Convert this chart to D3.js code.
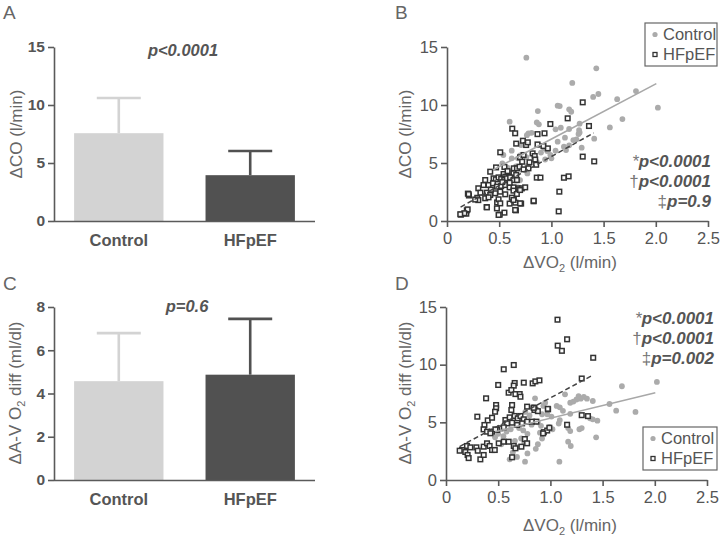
<!DOCTYPE html>
<html><head><meta charset="utf-8">
<script src="https://cdn.jsdelivr.net/npm/d3@7"></script>
<style>body{margin:0;background:#fff} text{font-family:"Liberation Sans",Arial,sans-serif}</style>
</head><body><svg id="c" width="720" height="537"></svg>
<script>
// ---------- DATA ----------
const groups = ["Control", "HFpEF"];
const coMean = [7.57, 3.95];
const coSD = [3.03, 2.08];
const avMean = [4.57, 4.87];
const avSD = [2.22, 2.58];
const coTicks = [0, 5, 10, 15];
const avTicks = [0, 2, 4, 6, 8];
const scatterYTicks = [0, 5, 10, 15];
const scatterXTicks = [0, 0.5, 1.0, 1.5, 2.0, 2.5];

// Panel B: ΔVO2 vs ΔCO
const bControl = [[0.76,14.08],[1.43,13.16],[1.20,11.9],[1.81,11.2],[1.40,10.7],[1.45,10.95],[1.63,10.5],[2.02,9.77],[1.06,9.94],[1.08,9.91],[1.17,9.63],[1.19,9.42],[0.87,9.48],[1.68,8.79],[1.56,8.07],[0.60,8.56],[0.86,8.5],[0.88,8.33],[1.27,8.39],[1.04,7.9],[1.09,8.04],[1.17,7.93],[1.265,7.84],[1.27,7.64],[1.41,7.1],[1.26,7.5],[1.13,7.18],[1.06,6.84],[1.21,6.98],[1.24,7.04],[1.29,6.32],[1.17,6.52],[1.12,6.41],[1.04,6.06],[1.14,6.12],[0.96,6.03],[0.88,6.55],[0.78,7.56],[0.765,7.4],[0.62,6.06],[0.70,5.65],[0.68,5.4],[0.62,5.4],[0.53,4.97],[0.76,5.5],[0.83,5.65],[0.94,5.3],[0.99,5.7],[0.86,5.1],[0.77,4.77],[0.66,4.7],[0.77,4.1],[0.62,4.25],[0.70,3.53],[0.67,3.5],[0.68,2.9],[0.54,5.69],[0.93,6.27],[0.81,7.6],[0.90,5.9],[1.00,5.4],[0.58,4.6],[0.71,6.55]];
const bHFpEF = [[1.30,10.23],[1.156,8.85],[0.99,8.36],[1.36,8.19],[0.625,7.96],[0.653,7.56],[0.867,7.49],[0.934,7.56],[0.663,6.67],[0.727,6.92],[0.758,6.55],[0.774,6.78],[0.867,6.6],[0.924,6.46],[0.966,6.26],[0.51,5.92],[0.70,5.49],[0.733,5.69],[0.82,5.83],[0.84,5.6],[0.79,5.06],[0.72,5.11],[0.845,5.3],[0.854,4.85],[1.30,5.55],[1.41,5.14],[1.12,3.73],[1.165,3.85],[0.86,3.74],[0.895,3.74],[1.076,2.53],[0.83,1.7],[1.07,0.83],[0.66,0.92],[0.55,0.72],[0.505,0.55],[0.134,0.55],[0.185,0.63],[0.19,0.92],[0.20,2.36],[0.21,2.2],[0.29,2.0],[0.30,1.8],[0.38,1.2],[0.48,1.6],[0.60,1.5],[0.64,1.87],[0.655,1.58],[0.71,1.5],[0.414,4.25],[0.64,4.54],[0.67,4.54],[0.695,4.68],[0.733,4.45],[0.78,4.54],[0.366,3.53],[0.35,3.1],[0.30,2.82],[0.32,2.44],[0.207,2.32],[0.542,4.05],[0.558,3.82],[0.596,3.82],[0.637,4.11],[0.663,3.97],[0.446,3.68],[0.468,3.59],[0.494,3.76],[0.519,3.62],[0.548,3.53],[0.574,3.68],[0.605,3.76],[0.637,3.53],[0.669,3.53],[0.398,3.1],[0.44,3.25],[0.478,2.96],[0.519,3.02],[0.558,3.1],[0.60,2.9],[0.637,2.9],[0.685,2.81],[0.717,2.81],[0.749,2.9],[0.382,2.44],[0.414,2.24],[0.462,2.39],[0.51,2.53],[0.558,2.3],[0.637,2.62],[0.669,2.33],[0.70,2.67],[0.366,1.96],[0.398,2.04],[0.494,1.87],[0.51,1.52],[0.621,2.01],[0.637,1.81],[0.70,1.52],[0.83,1.75],[0.382,1.18],[0.478,1.09],[0.653,0.95],[0.198,1.0],[0.166,0.67],[0.127,0.58],[0.494,0.52],[0.47,4.62],[0.55,4.66],[0.58,4.3],[0.60,3.3],[0.53,3.35],[0.42,2.7],[0.27,1.85]];
const bFitControl = [[0.44, 4.4], [2.005, 11.84]];
const bFitHFpEF = [[0.13, 1.2], [1.405, 7.59]];
const bStats = [["*", "p<0.0001"], ["\u2020", "p<0.0001"], ["\u2021", "p=0.9"]];

// Panel D: ΔVO2 vs ΔA-V O2 diff
const dControl = [[2.02,8.5],[1.685,8.13],[1.566,6.59],[1.63,6.01],[1.815,5.9],[1.406,6.85],[1.27,7.28],[1.29,7.05],[1.25,6.98],[1.32,7.2],[1.35,7.05],[1.14,7.43],[1.19,6.7],[1.22,6.8],[1.06,6.42],[1.09,6.3],[1.12,6.0],[1.19,5.74],[1.406,5.26],[1.45,5.14],[1.38,5.35],[1.278,4.4],[1.30,4.5],[1.17,4.5],[1.19,4.24],[1.438,3.7],[1.17,3.32],[1.195,2.95],[1.086,1.59],[0.757,1.59],[0.61,1.79],[1.09,5.2],[1.08,4.9],[0.853,7.08],[0.933,6.42],[0.83,6.3],[0.87,6.1],[0.92,5.7],[0.97,5.7],[1.01,5.5],[0.88,5.0],[0.91,4.7],[0.82,4.8],[0.99,4.6],[1.02,4.4],[0.90,4.1],[0.92,3.6],[0.88,3.1],[0.86,2.7],[0.78,2.3],[0.70,4.5],[0.74,4.3],[0.78,4.0],[0.72,3.6],[0.75,3.2],[0.66,3.4],[0.70,2.9],[0.62,4.4],[0.58,4.2],[0.55,3.8],[0.50,4.0],[0.47,3.7],[0.53,3.1],[0.64,2.4],[0.68,2.0],[0.80,5.6],[0.76,5.9],[0.95,6.7]];
const dHFpEF = [[0.649,9.97],[0.553,9.6],[0.5,8.24],[0.658,8.41],[0.649,8.18],[0.745,8.44],[0.83,8.38],[0.856,8.55],[0.895,8.64],[0.60,7.57],[0.626,7.8],[0.665,7.45],[0.706,7.45],[0.713,7.22],[0.384,7.08],[0.48,6.5],[0.48,6.22],[0.47,5.92],[0.633,6.5],[0.626,6.07],[0.777,6.36],[0.847,6.27],[0.847,6.07],[0.978,6.13],[0.30,5.49],[0.40,5.17],[0.441,5.4],[0.368,4.77],[0.36,4.39],[0.569,5.2],[0.61,5.43],[0.658,5.55],[0.687,5.35],[0.713,5.55],[0.745,5.26],[0.777,5.06],[0.825,5.06],[0.866,5.06],[0.585,4.91],[0.633,4.97],[0.681,4.77],[0.729,4.91],[0.52,4.48],[0.553,4.57],[0.489,4.34],[0.441,4.19],[0.393,4.19],[0.425,4.05],[0.473,4.39],[0.201,2.95],[0.233,2.83],[0.154,2.6],[0.131,2.54],[0.185,2.43],[0.207,2.17],[0.291,2.83],[0.304,2.54],[0.361,2.89],[0.393,3.18],[0.418,2.95],[0.441,2.6],[0.467,2.6],[0.505,3.18],[0.553,3.32],[0.60,3.32],[0.649,2.95],[0.665,2.75],[0.722,2.89],[0.755,3.55],[0.777,3.18],[0.329,1.79],[0.361,2.17],[0.633,1.97],[0.937,4.15],[0.969,4.29],[0.217,1.9],[1.068,13.9],[1.07,11.65],[1.11,11.2],[1.16,12.2],[1.41,10.6],[1.30,8.8],[1.16,4.79],[1.30,5.62],[1.36,5.54],[0.99,4.53],[0.93,4.04],[0.975,6.17],[0.88,5.97],[0.84,6.26]];
const dFitControl = [[0.47, 4.19], [2.005, 7.56]];
const dFitHFpEF = [[0.13, 2.9], [1.40, 9.06]];
const dStats = [["*", "p<0.0001"], ["\u2020", "p<0.0001"], ["\u2021", "p=0.002"]];

// ---------- STYLE ----------
const barColors = ["#d3d3d3", "#515151"];
const axisColor = "#5a5a5a";
const textColor = "#555";
const ctrlDot = "#ababab";
const hfStroke = "#333";

const svg = d3.select("#c");

function styleAxis(g, fontSize, weight) {
  g.select(".domain").attr("stroke", axisColor).attr("stroke-width", 1.6);
  g.selectAll(".tick line").attr("stroke", axisColor).attr("stroke-width", 1.6);
  g.selectAll(".tick text").attr("fill", textColor).style("font-size", fontSize + "px")
    .style("font-weight", weight).style("font-family", '"Liberation Sans",Arial,sans-serif');
}

function panelLetter(t, x, y) {
  svg.append("text").attr("x", x).attr("y", y).text(t)
    .attr("fill", "#666").style("font-size", "19px");
}

function yTitle(cx, cy, parts) {
  const t = svg.append("text").attr("transform", `translate(${cx},${cy}) rotate(-90)`)
    .attr("text-anchor", "middle").attr("fill", "#666").style("font-size", "17px").attr("dy", "0.35em");
  parts.forEach(p => {
    const s = t.append("tspan").text(p[0]);
    if (p[1] === "sub") s.style("font-size", "11px").attr("dy", 4);
    if (p[1] === "after") s.attr("dy", -4);
  });
}

function barPanel(o) {
  const y = d3.scaleLinear().domain([0, o.max]).range([o.bot, o.top]);
  const x = d3.scaleBand().domain(groups).range([o.left, o.right]).paddingInner(0.32).paddingOuter(0.153);
  const g = svg.append("g");
  const idx = groups.map((d, i) => i);
  g.selectAll("line.eb").data(idx).join("line")
    .attr("x1", i => x(groups[i]) + x.bandwidth() / 2).attr("x2", i => x(groups[i]) + x.bandwidth() / 2)
    .attr("y1", i => y(o.means[i])).attr("y2", i => y(o.means[i] + o.sds[i]))
    .attr("stroke", i => barColors[i]).attr("stroke-width", 2.6);
  g.selectAll("line.cap").data(idx).join("line")
    .attr("x1", i => x(groups[i]) + x.bandwidth() / 2 - 22).attr("x2", i => x(groups[i]) + x.bandwidth() / 2 + 22)
    .attr("y1", i => y(o.means[i] + o.sds[i])).attr("y2", i => y(o.means[i] + o.sds[i]))
    .attr("stroke", i => barColors[i]).attr("stroke-width", 2.6);
  g.selectAll("rect").data(idx).join("rect")
    .attr("x", i => x(groups[i])).attr("width", x.bandwidth())
    .attr("y", i => y(o.means[i])).attr("height", i => y(0) - y(o.means[i]))
    .attr("fill", i => barColors[i]);
  const ya = g.append("g").attr("transform", `translate(${o.left},0)`)
    .call(d3.axisLeft(y).tickValues(o.ticks).tickSize(6).tickSizeOuter(0).tickPadding(3));
  styleAxis(ya, 15.5, "bold");
  const xa = g.append("g").attr("transform", `translate(0,${o.bot})`)
    .call(d3.axisBottom(x).tickSize(0).tickSizeOuter(0).tickPadding(13));
  styleAxis(xa, 16.5, "bold");
  xa.select(".domain").attr("d", `M${o.left},0.5H${o.right}`);
  svg.append("text").attr("x", o.pX).attr("y", o.pY).attr("text-anchor", "middle")
    .attr("fill", textColor).style("font-size", "16.5px").style("font-weight", "bold").style("font-style", "italic")
    .text(o.ptext);
}

function scatterPanel(o) {
  const x = d3.scaleLinear().domain([0, 2.5]).range([o.left, o.right]);
  const y = d3.scaleLinear().domain([0, 15]).range([o.bot, o.top]);
  const g = svg.append("g");
  const ya = g.append("g").attr("transform", `translate(${o.left},0)`)
    .call(d3.axisLeft(y).tickValues(scatterYTicks).tickSize(6).tickSizeOuter(0).tickPadding(3));
  styleAxis(ya, 16.5, "normal");
  const xa = g.append("g").attr("transform", `translate(0,${o.bot})`)
    .call(d3.axisBottom(x).tickValues(scatterXTicks).tickSize(6).tickSizeOuter(0).tickPadding(5)
      .tickFormat(d => d === 0 ? "0" : d3.format(".1f")(d)));
  styleAxis(xa, 16.5, "normal");
  g.selectAll("circle.c").data(o.ctrl).join("circle")
    .attr("cx", d => x(d[0])).attr("cy", d => y(d[1])).attr("r", 2.9).attr("fill", ctrlDot);
  g.selectAll("rect.h").data(o.hf).join("rect")
    .attr("x", d => x(d[0]) - 2.3).attr("y", d => y(d[1]) - 2.3).attr("width", 4.6).attr("height", 4.6)
    .attr("fill", "#fff").attr("fill-opacity", 0.9).attr("stroke", hfStroke).attr("stroke-width", 1.5);
  const line = d3.line().x(d => x(d[0])).y(d => y(d[1]));
  g.append("path").attr("d", line(o.fitC)).attr("stroke", "#a8a8a8").attr("stroke-width", 1.6).attr("fill", "none");
  g.append("path").attr("d", line(o.fitH)).attr("stroke", "#444").attr("stroke-width", 1.5)
    .attr("stroke-dasharray", "5,3").attr("fill", "none");
  const xt = svg.append("text").attr("x", o.xtX).attr("y", o.xtY).attr("text-anchor", "middle")
    .attr("fill", "#666").style("font-size", "17px");
  xt.append("tspan").text("\u0394VO");
  xt.append("tspan").text("2").style("font-size", "11px").attr("dy", 4);
  xt.append("tspan").text(" (l/min)").attr("dy", -4);
  o.stats.forEach((s, i) => {
    const t = svg.append("text").attr("x", o.sX).attr("y", o.sY + i * 20).attr("text-anchor", "end")
      .attr("fill", textColor).style("font-size", "17px").style("font-style", "italic");
    t.append("tspan").text(s[0]).attr("fill", "#777").style("font-weight", "normal").style("font-style", i === 0 ? "italic" : "normal");
    t.append("tspan").text(s[1]).style("font-weight", "bold");
  });
  const lg = svg.append("g");
  lg.append("rect").attr("x", o.lgX).attr("y", o.lgY).attr("width", o.lgW).attr("height", 43)
    .attr("fill", "#fff").attr("stroke", "#666").attr("stroke-width", 1.2);
  groups.forEach((gname, i) => {
    const cy = o.lgY + 11.5 + i * 20;
    if (i === 0) lg.append("circle").attr("cx", o.lgX + 10).attr("cy", cy).attr("r", 2.6).attr("fill", ctrlDot);
    else lg.append("rect").attr("x", o.lgX + 8).attr("y", cy - 2).attr("width", 4).attr("height", 4)
      .attr("fill", "#fff").attr("stroke", hfStroke).attr("stroke-width", 1.3);
    lg.append("text").attr("x", o.lgX + 18).attr("y", cy).attr("dy", "0.35em").text(gname)
      .attr("fill", textColor).style("font-size", "16.5px");
  });
}

// ---------- DRAW ----------
panelLetter("A", 3, 19);
panelLetter("B", 395, 19);
panelLetter("C", 3, 290);
panelLetter("D", 395, 290);

barPanel({ left: 54, right: 315, top: 47, bot: 221, max: 15, ticks: coTicks, means: coMean, sds: coSD,
  ptext: "p<0.0001", pX: 183, pY: 56 });
yTitle(16, 134, [["\u0394CO (l/min)"]]);

barPanel({ left: 54, right: 315, top: 307, bot: 480, max: 8, ticks: avTicks, means: avMean, sds: avSD,
  ptext: "p=0.6", pX: 187, pY: 312 });
yTitle(15, 393, [["\u0394A-V O"], ["2", "sub"], [" diff (ml/dl)", "after"]]);

scatterPanel({ left: 447, right: 708, top: 47, bot: 221, ctrl: bControl, hf: bHFpEF, fitC: bFitControl, fitH: bFitHFpEF,
  stats: bStats, sX: 711, sY: 167, lgX: 645, lgY: 23, lgW: 72, xtX: 570, xtY: 268 });
yTitle(405, 134, [["\u0394CO (l/min)"]]);

scatterPanel({ left: 446, right: 707, top: 307, bot: 480, ctrl: dControl, hf: dHFpEF, fitC: dFitControl, fitH: dFitHFpEF,
  stats: dStats, sX: 714, sY: 324, lgX: 643, lgY: 427, lgW: 74, xtX: 570, xtY: 531 });
yTitle(405, 393, [["\u0394A-V O"], ["2", "sub"], [" diff (ml/dl)", "after"]]);
</script></body></html>
